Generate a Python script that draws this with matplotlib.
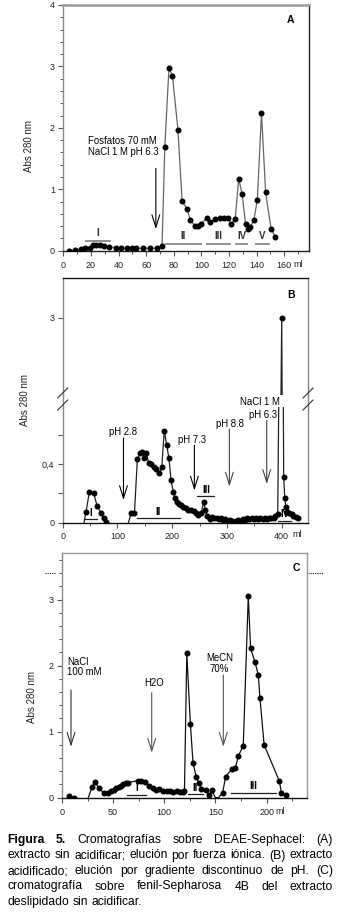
import matplotlib
matplotlib.use('Agg')
import matplotlib.pyplot as plt
import numpy as np
from matplotlib.ticker import MultipleLocator, FixedLocator, FixedFormatter
import matplotlib.transforms as mtransforms
from matplotlib.lines import Line2D

plt.rcParams['font.family'] = ['Liberation Sans', 'DejaVu Sans']

# ---------------- data ----------------
# Panel A
a_ml = [4, 8.5, 13, 16, 19, 21.5, 24, 26.5, 29.5, 33, 38, 42, 46, 50, 53, 57.5, 62.5, 68, 71.5,
        73.5, 76.5, 79, 83, 86, 89.5, 92, 95.5, 97.5, 100, 104, 106.5, 110, 113.5, 116.5, 119.5,
        121.5, 124.5, 127, 129.5, 132, 133.5, 135.5, 138, 140.5, 143.5, 146.5, 150.5, 153.5]
a_abs = [0.0, 0.01, 0.02, 0.04, 0.05, 0.09, 0.09, 0.09, 0.08, 0.06, 0.05, 0.04, 0.04, 0.05, 0.04,
         0.04, 0.04, 0.04, 0.08, 1.69, 2.97, 2.85, 1.97, 0.81, 0.68, 0.50, 0.40, 0.41, 0.44, 0.54,
         0.47, 0.51, 0.53, 0.53, 0.53, 0.43, 0.52, 1.17, 0.92, 0.43, 0.36, 0.39, 0.50, 0.83, 2.24,
         0.95, 0.35, 0.23]
a_regions = ['I', 'II', 'III', 'IV', 'V']
a_reg_start = [16.5, 74, 104, 125, 139.5]
a_reg_end = [34, 100, 121, 133, 149]

# Panel B
b_ml = [39, 42.6, 48.7, 56.6, 62.7, 70, 75, 79, 100,
        120, 125, 131, 136.4, 141.2, 145.5, 149.2, 152.8, 157, 162, 166, 171, 176.5, 181, 185.5,
        190, 194, 198, 202, 205, 208, 212, 216, 220, 225, 229, 234, 239, 243.5, 248, 252.7, 257.5,
        260.6, 264, 268.5, 273, 277, 281, 285, 289, 293, 297, 301, 305, 309, 313, 317, 321, 325,
        329, 333, 337, 341, 345, 349, 353, 357, 361, 365, 369, 373, 377, 381, 385, 388.5, 392.7,
        400, 403.6, 405.5, 407.5, 410.5, 414, 418, 421.5, 425.5, 429]
b_abs = [0.0, 0.075, 0.21, 0.20, 0.117, 0.064, 0.034, 0.005, np.nan,
         0.0, 0.064, 0.064, 0.437, 0.474, 0.487, 0.446, 0.478, 0.41, 0.405, 0.38, 0.37, 0.338,
         0.38, 0.63, 0.53, 0.44, 0.29, 0.21, 0.17, 0.14, 0.13, 0.12, 0.105, 0.10, 0.09, 0.087,
         0.08, 0.064, 0.053, 0.064, 0.14, 0.09, 0.046, 0.023, 0.037, 0.03, 0.035, 0.025, 0.03,
         0.02, 0.025, 0.015, 0.02, 0.01, 0.0, 0.015, 0.02, 0.015, 0.025, 0.02, 0.03, 0.025, 0.03,
         0.025, 0.03, 0.025, 0.03, 0.025, 0.03, 0.025, 0.03, 0.03, 0.035, 0.046, 0.06,
         3.0, 0.316, 0.17, 0.11, 0.075, 0.064, 0.06, 0.046, 0.04, 0.03]
b_unmarked = [39, 120]
b_regions = ['I', 'II', 'III', 'IV']
b_reg_start = [39.6, 135, 246, 394]
b_reg_end = [62, 214, 277, 417]
b_reg_y = [0.023, 0.03, 0.18, 0.014]

# Panel C
c_ml = [7, 12, 18, 25.7, 29.3, 32.5, 35.8, 41.3, 45.2, 47.8, 50.4, 53, 55.3, 57.6, 59.8, 62.4,
        64.7, 74.5, 77.7, 81, 85.2, 88.5, 92, 95.3, 99.2, 102.4, 105.4, 108.6, 112, 115, 118,
        119.7, 122, 125.5, 128.1, 131.4, 133.7, 136.3, 140.5, 143.5, 146.5, 150, 153, 157, 160,
        165.9, 169.4, 172.4, 177.2, 182.1, 184.4, 188.7, 191.9, 193.5, 197.6, 212.5, 214.5, 218.5]
c_abs = [0.025, 0.0, np.nan, 0.0, 0.16, 0.24, 0.14, 0.07, 0.07, 0.10, 0.12, 0.14, 0.16, 0.18,
         0.20, 0.22, 0.23, 0.26, 0.25, 0.24, 0.18, 0.15, 0.12, 0.13, 0.10, 0.10, 0.10, 0.09, 0.10,
         0.08, 0.09, 0.10, 2.19, 1.12, 0.52, 0.31, 0.23, 0.13, 0.11, 0.04, 0.11, 0.0, 0.0, 0.076,
         0.32, 0.43, 0.45, 0.63, 0.79, 3.05, 2.26, 2.05, 1.86, 1.51, 0.80, 0.25, 0.076, 0.046]
c_unmarked = [25.7, 150, 153]
c_regions = ['I', 'II', 'III']
c_reg_start = [64, 123, 165.5]
c_reg_end = [82.6, 138, 209.4]
c_reg_y = [0.045, 0.05, 0.076]

caption_lines = [
    [("Figura", "bold"), ("5.", "bold"), ("Cromatografías", "normal"), ("sobre", "normal"),
     ("DEAE-Sephacel:", "normal"), ("(A)", "normal")],
    "extracto sin acidificar; elución por fuerza iónica. (B) extracto",
    "acidificado; elución por gradiente discontinuo de pH. (C)",
    "cromatografía sobre fenil-Sepharosa 4B del extracto",
    "deslipidado sin acidificar.",
]

# ---------------- figure ----------------
W, H = 337, 917
fig = plt.figure(figsize=(W / 100, H / 100), dpi=100)
fig.patch.set_facecolor('white')


def ax_px(l, t, r, b):
    return fig.add_axes([l / W, 1 - b / H, (r - l) / W, (b - t) / H])


TICK_FS = 6.5
ANN_FS = 6.9
MS = 3.3


def style(ax, spine_colors):
    for k, c in spine_colors.items():
        ax.spines[k].set_color(c)
        ax.spines[k].set_linewidth(1.0)
    ax.tick_params(axis='both', which='major', direction='out', length=3.5, width=0.8,
                   labelsize=TICK_FS, colors='#555', labelcolor='#222', pad=2.5)
    ax.tick_params(axis='both', which='minor', direction='out', length=2.5, width=0.7, colors='#555')


def plot_series(ax, ml, ab, unmarked, lc, zorder=3):
    ml = np.array(ml, float)
    ab = np.array(ab, float)
    ax.plot(ml, ab, '-', color=lc, lw=0.9, zorder=zorder)
    mask = ~np.isin(ml, unmarked) & ~np.isnan(ab)
    ax.plot(ml[mask], ab[mask], 'o', ls='', color='black', ms=MS, zorder=zorder + 1)


def varrow(ax, x, y0, y1, color='black'):
    ax.annotate('', xy=(x, y1), xytext=(x, y0),
                arrowprops=dict(arrowstyle='->,head_length=0.9,head_width=0.28', lw=0.8,
                                color=color, shrinkA=0, shrinkB=0, mutation_scale=10))


def ml_label(ax, xfrac, off):
    ax.annotate('ml', xy=(xfrac, 0), xycoords='axes fraction', xytext=(0, -off),
                textcoords='offset pixels', ha='center', va='center', fontsize=TICK_FS, color='#222')


# ---------- Panel A ----------
axA = ax_px(63.3, 5, 309, 250.7)
plot_series(axA, a_ml, a_abs, [], '#666')
axA.set_xlim(0, 177.9)
axA.set_ylim(0, 4)
axA.xaxis.set_major_locator(FixedLocator([0, 20, 40, 60, 80, 100, 120, 140, 160]))
axA.xaxis.set_minor_locator(MultipleLocator(10))
axA.yaxis.set_major_locator(MultipleLocator(1))
axA.yaxis.set_minor_locator(MultipleLocator(0.2))
style(axA, {'top': '#999', 'left': '#888', 'right': '#222', 'bottom': '#222'})
axA.spines['top'].set_linewidth(1.8)
axA.tick_params(axis='x', pad=4)
ml_label(axA, 0.954, 14)
axA.text(0.925, 0.939, 'A', transform=axA.transAxes, fontsize=7.5, weight='bold',
         ha='center', va='center')
for lab, s, e in zip(a_regions, a_reg_start, a_reg_end):
    y = 0.16 if lab == 'I' else 0.11
    axA.plot([s, e], [y, y], color='#888', lw=1.3)
    axA.text((s + e) / 2, y + 0.04, lab, fontsize=7, weight='bold', ha='center', va='bottom',
             color='#333')
varrow(axA, 67, 1.34, 0.35)
axA.text(18, 1.87, 'Fosfatos 70 mM\nNaCl 1 M pH 6.3', fontsize=ANN_FS, ha='left', va='top',
         linespacing=1.2)

# ---------- Panel B ----------
axBu = ax_px(62.7, 278, 308, 395)
axBl = ax_px(62.7, 407, 308, 522.7)
for ax in (axBu, axBl):
    plot_series(ax, b_ml, b_abs, b_unmarked, '#222')
    ax.set_xlim(0, 448)
axBu.set_ylim(2.47, 3.272)
axBl.set_ylim(0, 0.792)
axBu.set_xticks([])
axBu.yaxis.set_major_locator(FixedLocator([3]))
axBu.yaxis.set_minor_locator(FixedLocator([]))
style(axBu, {'top': '#111', 'left': '#888', 'right': '#888', 'bottom': '#888'})
axBu.spines['bottom'].set_visible(False)
axBl.xaxis.set_major_locator(FixedLocator([0, 100, 200, 300, 400]))
axBl.xaxis.set_minor_locator(MultipleLocator(50))
axBl.yaxis.set_major_locator(FixedLocator([0, 0.2, 0.4, 0.6]))
axBl.yaxis.set_major_formatter(FixedFormatter(['0', '', '0,4', '']))
style(axBl, {'top': '#888', 'left': '#888', 'right': '#888', 'bottom': '#111'})
axBl.spines['top'].set_visible(False)
axBl.tick_params(axis='x', pad=3)
ml_label(axBl, 0.954, 12)
axBu.text(0.93, 0.855, 'B', transform=axBu.transAxes, fontsize=7.5, weight='bold',
          ha='center', va='center')
for lab, s, e, y in zip(b_regions, b_reg_start, b_reg_end, b_reg_y):
    axBl.plot([s, e], [y, y], color='#222', lw=0.9)
    axBl.text((s + e) / 2, y + 0.008, lab, fontsize=7, weight='bold', ha='center', va='bottom')
# arrows B
varrow(axBl, 111, 0.58, 0.155)
axBl.text(111, 0.62, 'pH 2.8', fontsize=ANN_FS, ha='center', va='center')
varrow(axBl, 240.5, 0.53, 0.22)
axBl.text(237, 0.565, 'pH 7.3', fontsize=ANN_FS, ha='center', va='center')
varrow(axBl, 304.4, 0.64, 0.247, color='#444')
axBl.text(305.6, 0.676, 'pH 8.8', fontsize=ANN_FS, ha='center', va='center')
varrow(axBl, 372.6, 0.70, 0.265, color='#444')
axBl.text(366, 0.737, 'pH 6.3', fontsize=ANN_FS, ha='center', va='center', clip_on=False)
axBl.text(360, 0.829, 'NaCl 1 M', fontsize=ANN_FS, ha='center', va='center', clip_on=False)
# break marks and spine connection
for xp in (62.7, 308):
    fig.add_artist(Line2D([xp / W, xp / W], [1 - 395 / H, 1 - 407 / H], color='#888', lw=1.0))
    for yp in (393, 405):
        fig.add_artist(Line2D([(xp - 5) / W, (xp + 5) / W], [1 - (yp + 5) / H, 1 - (yp - 5) / H],
                              color='#333', lw=0.8))

# ---------- Panel C ----------
axC = ax_px(62, 552.7, 307.3, 797.7)
plot_series(axC, c_ml, c_abs, c_unmarked, '#111')
axC.set_xlim(0, 239.8)
axC.set_ylim(0, 3.71)
axC.xaxis.set_major_locator(FixedLocator([0, 50, 100, 150, 200]))
axC.xaxis.set_minor_locator(MultipleLocator(25))
axC.yaxis.set_major_locator(MultipleLocator(1))
axC.yaxis.set_minor_locator(MultipleLocator(0.2))
style(axC, {'top': '#999', 'left': '#888', 'right': '#999', 'bottom': '#111'})
axC.tick_params(axis='x', pad=4)
ml_label(axC, 0.889, 14)
axC.text(0.954, 0.936, 'C', transform=axC.transAxes, fontsize=7.5, weight='bold',
         ha='center', va='center')
for lab, s, e, y in zip(c_regions, c_reg_start, c_reg_end, c_reg_y):
    axC.plot([s, e], [y, y], color='#222', lw=0.9)
    axC.text((s + e) / 2, y + 0.02, lab, fontsize=7, weight='bold', ha='center', va='bottom')
varrow(axC, 8.8, 1.63, 0.77, color='#333')
axC.text(4.9, 1.98, 'NaCl\n100 mM', fontsize=ANN_FS, ha='left', va='center', linespacing=1.1)
varrow(axC, 87.7, 1.59, 0.68, color='#555')
axC.text(90, 1.74, 'H2O', fontsize=ANN_FS, ha='center', va='center')
varrow(axC, 157.7, 1.86, 0.77, color='#555')
axC.text(153.9, 2.03, 'MeCN\n70%', fontsize=ANN_FS, ha='center', va='center', linespacing=1.1)
bt = mtransforms.blended_transform_factory(axC.transAxes, axC.transData)
axC.plot([-0.069, -0.0285], [3.4, 3.4], ls=(0, (1, 1)), color='#222', lw=0.8, transform=bt,
         clip_on=False)
axC.plot([1.003, 1.064], [3.4, 3.4], ls=(0, (1, 1)), color='#222', lw=0.8, transform=bt,
         clip_on=False)

# y labels
for (xp, yp) in [(29, 146), (25, 400), (32, 697)]:
    fig.text(xp / W, 1 - yp / H, 'Abs 280 nm', rotation=90, fontsize=7, ha='center',
             va='center', color='#222')

# ---------- caption (justified) ----------
fig.canvas.draw()
renderer = fig.canvas.get_renderer()
x0, x1 = 7.5, 333.0
ident = mtransforms.IdentityTransform()
line_y = [840, 855.5, 871, 886.5, 902]


def words_of(line):
    if isinstance(line, str):
        return [(w, 'normal') for w in line.split(' ')]
    return line


def natural(line, fs):
    ws = words_of(line)
    ts = [fig.text(0, 0, w, fontsize=fs, weight=wt, transform=ident) for w, wt in ws]
    widths = [t.get_window_extent(renderer).width for t in ts]
    for t in ts:
        t.remove()
    sp = fig.text(0, 0, 'a b', fontsize=fs, transform=ident)
    sa = fig.text(0, 0, 'ab', fontsize=fs, transform=ident)
    gap = sp.get_window_extent(renderer).width - sa.get_window_extent(renderer).width
    sp.remove(); sa.remove()
    return widths, gap


# choose size so the tightest line (line 2) fills the width with normal spaces
base = 9.0
wds, g = natural(caption_lines[1], base)
nat = sum(wds) + g * (len(wds) - 1)
CAP_FS = base * (x1 - x0) / nat * 0.995

for i, line in enumerate(caption_lines):
    ws = words_of(line)
    texts = [fig.text(0, H - line_y[i], w, fontsize=CAP_FS, weight=wt, transform=ident,
                      ha='left', va='center', color='black') for w, wt in ws]
    widths = [t.get_window_extent(renderer).width for t in texts]
    _, normal_gap = natural(line, CAP_FS)
    last = (i == len(caption_lines) - 1)
    if last or len(texts) == 1:
        gap = normal_gap
    else:
        gap = (x1 - x0 - sum(widths)) / (len(texts) - 1)
    x = x0
    for t, w in zip(texts, widths):
        t.set_x(x)
        x += w + gap

fig.savefig('out.png', dpi=100, facecolor='white')
